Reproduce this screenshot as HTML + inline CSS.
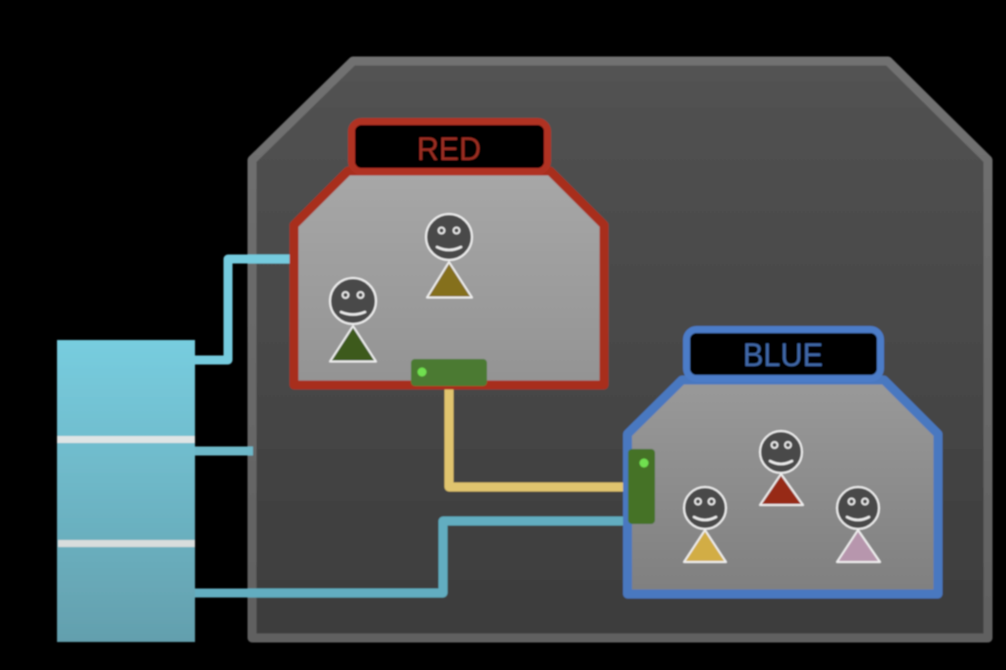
<!DOCTYPE html>
<html>
<head>
<meta charset="utf-8">
<style>
html,body{margin:0;padding:0;background:#000;width:1006px;height:670px;overflow:hidden}
svg{display:block}
text{font-family:"Liberation Sans",sans-serif;font-size:32px;text-anchor:middle}
</style>
</head>
<body>
<svg width="1006" height="670" viewBox="0 0 1006 670" xmlns="http://www.w3.org/2000/svg">
<defs>
<linearGradient id="o" x1="0" y1="0" x2="0" y2="1"><stop offset="0" stop-color="#525252"/><stop offset="1" stop-color="#3c3c3c"/></linearGradient>
<linearGradient id="os" x1="0" y1="0" x2="0" y2="1"><stop offset="0" stop-color="#717171"/><stop offset="1" stop-color="#606060"/></linearGradient>
<linearGradient id="r" x1="0" y1="0" x2="0" y2="1"><stop offset="0" stop-color="#a7a7a7"/><stop offset="1" stop-color="#939393"/></linearGradient>
<linearGradient id="b" x1="0" y1="0" x2="0" y2="1"><stop offset="0" stop-color="#999999"/><stop offset="1" stop-color="#7f7f7f"/></linearGradient>
<linearGradient id="t" x1="0" y1="0" x2="0" y2="1"><stop offset="0" stop-color="#77cddf"/><stop offset="1" stop-color="#639fad"/></linearGradient>
<filter id="s" x="-5%" y="-5%" width="110%" height="110%"><feGaussianBlur stdDeviation="0.7"/></filter>
</defs>
<g filter="url(#s)">
<path d="M252 160 L353 61 H888 L988 160 V638 H252 Z" fill="url(#o)" stroke="url(#os)" stroke-width="9" stroke-linejoin="round"/>

<path d="M195 360 H228 V259 H290" fill="none" stroke="#74cbde" stroke-width="9" stroke-linejoin="round"/>
<path d="M195 451 H253" fill="none" stroke="#6db8c9" stroke-width="9"/>
<path d="M195 593 H443 V521 H628" fill="none" stroke="#62adc0" stroke-width="9" stroke-linejoin="round"/>
<path d="M449 386 V487 H628" fill="none" stroke="#e0c46e" stroke-width="9" stroke-linejoin="round"/>

<rect x="57" y="340" width="138" height="302" fill="url(#t)"/>
<rect x="57" y="436" width="138" height="7" fill="#dfe5e5"/>
<rect x="58" y="540" width="137" height="7" fill="#d8dddd"/>

<path d="M294 225 L348 171 H550 L604 225 V385 H294 Z" fill="url(#r)" stroke="#a82e1b" stroke-width="9" stroke-linejoin="round"/>
<rect x="351.500" y="121.500" width="196" height="50" rx="10" fill="#000" stroke="#b03020" stroke-width="7"/>
<text x="449" y="160" fill="#9c2e20" textLength="64" lengthAdjust="spacingAndGlyphs">RED</text>

<path d="M627.500 434 L682 380 H884 L938 434 V594 H627.500 Z" fill="url(#b)" stroke="#4a78c0" stroke-width="9" stroke-linejoin="round"/>
<rect x="686.500" y="329.500" width="194" height="49" rx="10" fill="#000" stroke="#4c7cc8" stroke-width="7"/>
<text x="783" y="366" fill="#4068a8" textLength="80" lengthAdjust="spacingAndGlyphs">BLUE</text>

<rect x="411" y="359" width="76" height="27" rx="4" fill="#4b7a30"/>
<circle cx="422" cy="372" r="4.500" fill="#70e050"/>
<rect x="628" y="449" width="27" height="75" rx="4" fill="#457228"/>
<circle cx="644" cy="463" r="4.500" fill="#70e050"/>

<g stroke="#eeeeee" stroke-width="2" stroke-linejoin="round">
<path d="M449 262 L472 297.500 H427 Z" fill="#85701f"/>
<path d="M353 326 L376 361.500 H330 Z" fill="#3d5a1d"/>
<path d="M781 474 L803 505 H760 Z" fill="#972a13"/>
<path d="M705 530 L726 562 H684 Z" fill="#d2ad45"/>
<path d="M858 530 L880 562 H837 Z" fill="#b796ad"/>
</g>

<g fill="#484848" stroke="#eeeeee" stroke-width="2">
<circle cx="449" cy="237" r="23"/>
<circle cx="353" cy="301" r="23"/>
<circle cx="781" cy="452" r="21"/>
<circle cx="705" cy="508" r="21"/>
<circle cx="858" cy="508" r="21"/>
</g>
<g fill="none" stroke="#eeeeee" stroke-width="1.800">
<circle cx="441.500" cy="230.500" r="3"/><circle cx="456.500" cy="230.500" r="3"/>
<circle cx="345.500" cy="295" r="3"/><circle cx="360.500" cy="295" r="3"/>
<circle cx="774.500" cy="445" r="3"/><circle cx="788" cy="445" r="3"/>
<circle cx="698" cy="501.500" r="3"/><circle cx="711.500" cy="501.500" r="3"/>
<circle cx="851.500" cy="501.500" r="3"/><circle cx="865" cy="501.500" r="3"/>
</g>
<g fill="none" stroke="#eeeeee" stroke-width="2.500" stroke-linecap="round">
<path d="M437 247 Q449 253 461 247"/>
<path d="M341 312 Q353 317 365 312"/>
<path d="M770 461 Q781 467 792 461"/>
<path d="M694 517 Q705 523 716 517"/>
<path d="M847 517 Q858 523 869 517"/>
</g>
</g>
</svg>
</body>
</html>
